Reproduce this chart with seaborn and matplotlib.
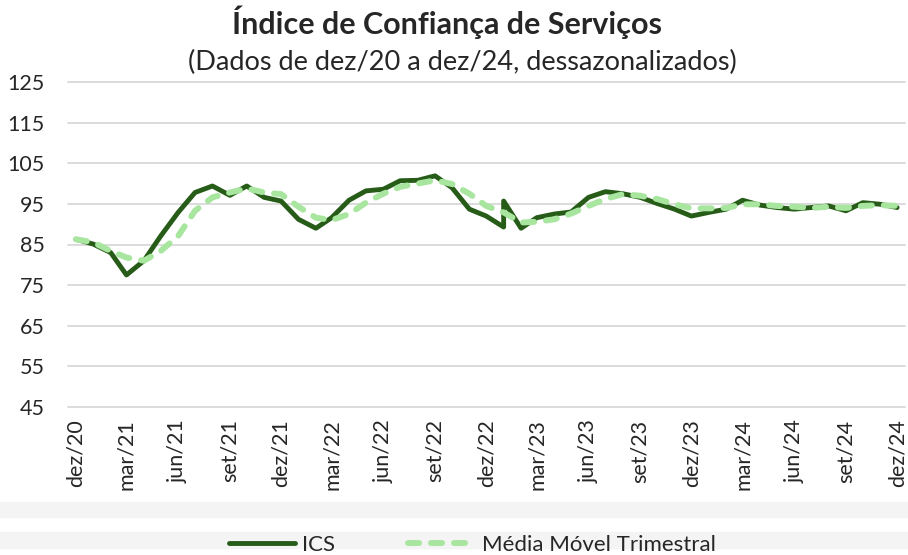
import matplotlib
matplotlib.use('Agg')
import matplotlib.pyplot as plt
import matplotlib.patches as mpatches
import pandas as pd
import seaborn as sns

# meses de dez/20 a dez/24 (eixo de categorias)
meses = pd.date_range('2020-12-01', '2024-12-01', freq='MS')
nomes_meses = ['jan', 'fev', 'mar', 'abr', 'mai', 'jun', 'jul', 'ago', 'set', 'out', 'nov', 'dez']

# ICS tem dois registros em jan/23 (quebra vertical na serie)
ics_datas = list(meses[:26]) + list(meses[25:])
ics = [86.3, 85.1, 83.0, 77.5, 81.0, 87.1, 92.9, 97.8, 99.4, 97.1, 99.4, 96.6,
       95.7, 91.2, 89.0, 91.6, 95.9, 98.2, 98.6, 100.7, 100.8, 101.9, 99.0, 93.7,
       92.0, 89.3, 95.7, 89.0, 91.6, 92.5, 93.0, 96.6, 98.0, 97.5, 96.6, 95.1, 93.7,
       92.0, 92.9, 93.7, 95.9, 94.7, 94.1, 93.7, 94.1, 94.5, 93.3, 95.3, 94.9, 94.1]

mm3 = [86.3, 85.5, 83.4, 81.8, 81.0, 83.4, 87.1, 93.3, 96.6, 97.8, 98.8, 97.8,
       97.4, 94.3, 91.6, 91.0, 92.5, 95.3, 97.5, 99.2, 100.0, 100.8, 99.9, 97.5,
       94.5, 92.9, 90.4, 90.6, 91.2, 92.6, 94.5, 96.2, 97.4, 97.0, 96.2, 94.9,
       93.9, 93.9, 94.0, 94.9, 94.9, 94.5, 94.3, 94.0, 94.3, 94.0, 94.5, 94.7, 94.5]

y_ticks = [45, 55, 65, 75, 85, 95, 105, 115, 125]

COR_ICS = '#265c18'
COR_MM = '#a8e6a0'
EC = '#262626'

sns.set_style('white')
plt.rcParams['font.family'] = ['Lato', 'DejaVu Sans']

W, H = 908, 555
fig = plt.figure(figsize=(W / 100, H / 100), dpi=100)

# faixas cinza claras no rodape
for y0, y1 in [(502, 517), (532, 548)]:
    fig.patches.append(mpatches.Rectangle((0, 1 - y1 / H), 1, (y1 - y0) / H,
                                          transform=fig.transFigure, color='#f4f4f4', zorder=0))

ax = fig.add_axes([68 / W, 1 - 407 / H, (905 - 68) / W, (407 - 82) / H])

df_ics = pd.DataFrame({'data': ics_datas, 'valor': ics})
df_mm = pd.DataFrame({'data': meses, 'valor': mm3})

sns.lineplot(data=df_ics, x='data', y='valor', ax=ax, color=COR_ICS, linewidth=3.5,
             estimator=None, sort=False, label='ICS', zorder=3)
sns.lineplot(data=df_mm, x='data', y='valor', ax=ax, color=COR_MM, linewidth=4.3,
             estimator=None, sort=False, label='Média Móvel Trimestral', zorder=4,
             dashes=False, linestyle=(0, (1.85, 2.0)), dash_capstyle='round')

ax.set_ylim(45, 125)
ax.set_yticks(y_ticks)
ax.set_xlim(meses[0] - pd.Timedelta(days=14), meses[-1] + pd.Timedelta(days=14))
ticks = meses[::3]
ax.set_xticks(ticks)
ax.set_xticklabels([f'{nomes_meses[m.month - 1]}/{m.year % 100:02d}' for m in ticks], rotation=90)
ax.tick_params(axis='both', length=0, labelsize=15.5, colors=EC)
ax.tick_params(axis='y', pad=17)
ax.tick_params(axis='x', pad=9)
ax.set_xlabel('')
ax.set_ylabel('')
ax.grid(axis='y', color='#d9d9d9', linewidth=1.3)
for gl in ax.get_ygridlines():
    gl.set_clip_on(False)
for s in ax.spines.values():
    s.set_visible(False)

ax.get_legend().remove()
h, l = ax.get_legend_handles_labels()
fig.legend(h, l, loc='center', bbox_to_anchor=(0.52, 1 - 545 / H), ncol=2, frameon=False,
           fontsize=16, handlelength=3.0, columnspacing=3.3, handletextpad=0.3,
           labelcolor=EC)

fig.text(0.492, 1 - 22 / H, 'Índice de Confiança de Serviços', ha='center', va='center',
         fontsize=22, fontweight='bold', color=EC)
fig.text(0.509, 1 - 62 / H, '(Dados de dez/20 a dez/24, dessazonalizados)', ha='center',
         va='center', fontsize=19.5, color=EC)

fig.savefig('out.png', dpi=100)
